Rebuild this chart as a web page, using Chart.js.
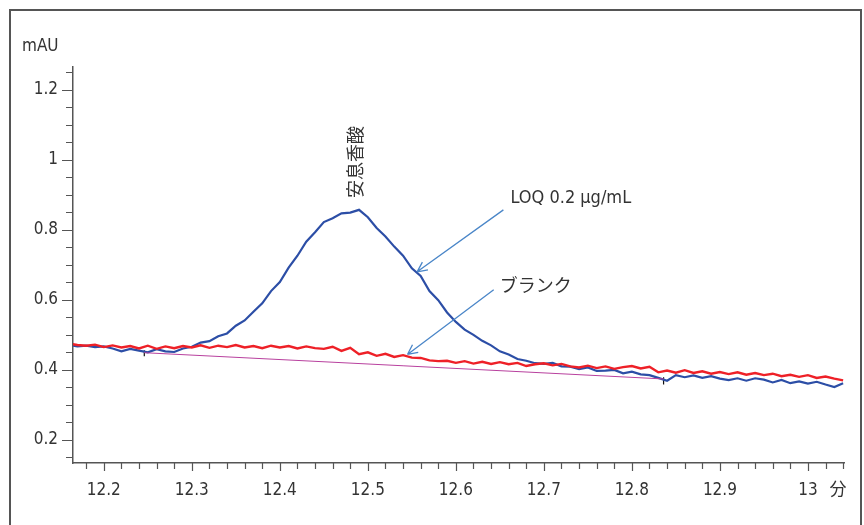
<!DOCTYPE html>
<html>
<head>
<meta charset="utf-8">
<script src="https://cdn.jsdelivr.net/npm/chart.js@4/dist/chart.umd.min.js"></script>
<style>
  html, body { margin: 0; padding: 0; background: #fff; }
  #wrap { width: 864px; height: 525px; }
</style>
</head>
<body>
<div id="wrap"><canvas id="chrom" width="864" height="525"></canvas></div>
<script>
// retention time (min), shared by both traces
const times = [
  12.16,12.17,12.18,12.19,12.20,12.21,12.22,12.23,12.24,12.25,12.26,12.27,12.28,12.29,
  12.30,12.31,12.32,12.33,12.34,12.35,12.36,12.37,12.38,12.39,12.40,12.41,12.42,12.43,
  12.44,12.45,12.46,12.47,12.48,12.49,12.50,12.51,12.52,12.53,12.54,12.55,12.56,12.57,
  12.58,12.59,12.60,12.61,12.62,12.63,12.64,12.65,12.66,12.67,12.68,12.69,12.70,12.71,
  12.72,12.73,12.74,12.75,12.76,12.77,12.78,12.79,12.80,12.81,12.82,12.83,12.84,12.85,
  12.86,12.87,12.88,12.89,12.90,12.91,12.92,12.93,12.94,12.95,12.96,12.97,12.98,12.99,
  13.00,13.01,13.02,13.03,13.04
];
// LOQ 0.2 µg/mL (blue)
const loqTrace = [
  0.472,0.467,0.469,0.465,0.467,0.461,0.453,0.460,0.455,0.450,0.459,0.453,0.451,0.461,
  0.466,0.478,0.482,0.496,0.504,0.526,0.541,0.566,0.590,0.625,0.651,0.692,0.726,0.766,
  0.793,0.822,0.833,0.847,0.849,0.857,0.836,0.805,0.781,0.752,0.726,0.690,0.668,0.625,
  0.599,0.564,0.537,0.515,0.500,0.483,0.470,0.453,0.444,0.431,0.426,0.419,0.417,0.420,
  0.410,0.409,0.402,0.407,0.397,0.398,0.400,0.390,0.395,0.387,0.385,0.377,0.369,0.385,
  0.379,0.384,0.377,0.382,0.375,0.371,0.376,0.369,0.376,0.372,0.364,0.371,0.362,0.367,
  0.361,0.366,0.358,0.351,0.362
];
// ブランク (red)
const blankTrace = [
  0.475,0.471,0.469,0.472,0.465,0.470,0.464,0.468,0.461,0.469,0.460,0.467,0.462,0.468,
  0.464,0.470,0.463,0.469,0.465,0.471,0.464,0.468,0.462,0.469,0.464,0.468,0.461,0.467,
  0.462,0.460,0.466,0.454,0.463,0.445,0.450,0.440,0.446,0.437,0.442,0.435,0.434,0.427,
  0.425,0.426,0.420,0.425,0.418,0.423,0.417,0.422,0.416,0.420,0.411,0.416,0.419,0.413,
  0.417,0.410,0.407,0.412,0.405,0.410,0.403,0.408,0.411,0.404,0.409,0.393,0.398,0.392,
  0.399,0.391,0.396,0.389,0.394,0.388,0.393,0.386,0.391,0.385,0.389,0.382,0.386,0.380,
  0.385,0.377,0.381,0.375,0.370
];
// integration baseline and its start/end markers
const baseTimes = [12.246, 12.836];
const baseValues = [0.449, 0.374];
const markerTop = [0.456, 0.379];
const markerBottom = [0.439, 0.358];

const xMajorLabels = ['12.2','12.3','12.4','12.5','12.6','12.7','12.8','12.9','13'];
const yMajorLabels = ['0.2','0.4','0.6','0.8','1','1.2'];
const xRange = [12.165, 13.041];
const yRange = [0.134, 1.265];

// annotations in data units
const peakLabel = { t: 12.486, v: 0.994, text: '安息香酸' };
const textLabels = [
  { t: 12.662, v: 0.891, text: 'LOQ 0.2 µg/mL', cjk: false },
  { t: 12.650, v: 0.643, text: 'ブランク', cjk: true }
];
const arrows = [
  { from: [12.654, 0.857], to: [12.556, 0.680] },
  { from: [12.643, 0.629], to: [12.545, 0.444] }
];

const NARROW = '"Liberation Sans Narrow", "DejaVu Sans Condensed", Roboto, sans-serif';
const CJK = '"Noto Sans CJK JP", "Noto Sans", sans-serif';

const xy = (ts, vs) => ts.map((t, i) => ({ x: t, y: vs[i] }));
const markers = [
  { x: baseTimes[0], y: markerTop[0] }, { x: baseTimes[0], y: markerBottom[0] },
  { x: baseTimes[0], y: null },
  { x: baseTimes[1], y: markerTop[1] }, { x: baseTimes[1], y: markerBottom[1] }
];

const isMajor = (v, step) => Math.abs(v / step - Math.round(v / step)) < 1e-6;

const decor = {
  id: 'decor',
  beforeDraw(chart) {
    const c = chart.ctx;
    c.save();
    c.strokeStyle = '#555';
    c.lineWidth = 2;
    c.beginPath();
    c.moveTo(10, 530); c.lineTo(10, 10); c.lineTo(861, 10); c.lineTo(861, 530);
    c.stroke();
    c.restore();
  },
  afterDraw(chart) {
    const c = chart.ctx;
    const xs = chart.scales.x, ys = chart.scales.y;
    c.save();
    // tick marks
    c.strokeStyle = '#555';
    c.lineWidth = 1.2;
    c.beginPath();
    xs.ticks.forEach(tk => {
      const px = Math.round(xs.getPixelForValue(tk.value)) + 0.5;
      const len = isMajor(tk.value, 0.1) ? 8 : 6;
      c.moveTo(px, xs.top); c.lineTo(px, xs.top + len);
    });
    ys.ticks.forEach(tk => {
      const py = Math.round(ys.getPixelForValue(tk.value)) + 0.5;
      const len = isMajor(tk.value, 0.2) ? 11 : 7;
      c.moveTo(ys.right, py); c.lineTo(ys.right - len, py);
    });
    c.stroke();

    // axis titles
    c.fillStyle = '#333';
    c.font = '17px ' + NARROW;
    c.textAlign = 'left';
    c.textBaseline = 'middle';
    c.fillText('mAU', 22, 47);
    c.font = '17px ' + CJK;
    c.textAlign = 'center';
    c.fillText('分', 838, 489);

    // rotated peak name
    c.save();
    c.translate(xs.getPixelForValue(peakLabel.t), ys.getPixelForValue(peakLabel.v));
    c.rotate(-Math.PI / 2);
    c.font = '18px ' + CJK;
    c.textAlign = 'center';
    c.textBaseline = 'middle';
    c.fillText(peakLabel.text, 0, 0);
    c.restore();

    // trace labels
    textLabels.forEach(l => {
      c.font = '18px ' + (l.cjk ? CJK : NARROW);
      c.textAlign = 'left';
      c.textBaseline = 'middle';
      c.fillText(l.text, xs.getPixelForValue(l.t), ys.getPixelForValue(l.v));
    });

    // arrows
    c.strokeStyle = '#4a86c8';
    c.lineWidth = 1.3;
    arrows.forEach(a => {
      const x1 = xs.getPixelForValue(a.from[0]), y1 = ys.getPixelForValue(a.from[1]);
      const x2 = xs.getPixelForValue(a.to[0]), y2 = ys.getPixelForValue(a.to[1]);
      const ang = Math.atan2(y2 - y1, x2 - x1);
      c.beginPath();
      c.moveTo(x1, y1); c.lineTo(x2, y2);
      [0.45, -0.45].forEach(d => {
        c.moveTo(x2, y2);
        c.lineTo(x2 - 11 * Math.cos(ang + d), y2 - 11 * Math.sin(ang + d));
      });
      c.stroke();
    });
    c.restore();
  }
};

new Chart(document.getElementById('chrom'), {
  type: 'line',
  data: {
    datasets: [
      { data: xy(baseTimes, baseValues), borderColor: '#b8409e', borderWidth: 1, pointRadius: 0 },
      { data: xy(times, blankTrace), borderColor: '#ee2027', borderWidth: 2.4, pointRadius: 0 },
      { data: xy(times, loqTrace), borderColor: '#2c4ea6', borderWidth: 2.2, pointRadius: 0 },
      { data: markers, borderColor: '#111', borderWidth: 1.2, pointRadius: 0, spanGaps: false }
    ]
  },
  options: {
    responsive: false,
    animation: false,
    events: [],
    layout: { padding: { top: 67, right: 20, left: 0, bottom: 0 } },
    plugins: { legend: { display: false }, tooltip: { enabled: false } },
    elements: { line: { tension: 0 } },
    scales: {
      x: {
        type: 'linear',
        min: xRange[0], max: xRange[1],
        afterBuildTicks: s => {
          const t = [];
          for (let k = 0; k <= 43; k++) t.push({ value: +(12.18 + k * 0.02).toFixed(2) });
          s.ticks = t;
        },
        afterFit: s => { s.height = 62; },
        grid: { display: true, drawOnChartArea: false, drawTicks: false },
        border: { display: true, color: '#555', width: 1.5 },
        ticks: {
          autoSkip: false, maxRotation: 0, padding: 17,
          color: '#333', font: { family: NARROW, size: 17 },
          callback: v => isMajor(v, 0.1) ? xMajorLabels[Math.round((v - 12.2) * 10)] : ''
        }
      },
      y: {
        type: 'linear',
        min: yRange[0], max: yRange[1],
        afterBuildTicks: s => {
          const t = [];
          for (let k = 0; k <= 22; k++) t.push({ value: +(0.15 + k * 0.05).toFixed(2) });
          s.ticks = t;
        },
        afterFit: s => { s.width = 73; },
        grid: { display: true, drawOnChartArea: false, drawTicks: false },
        border: { display: true, color: '#555', width: 1.5 },
        ticks: {
          autoSkip: false, padding: 15,
          color: '#333', font: { family: NARROW, size: 17 },
          callback: v => isMajor(v, 0.2) ? yMajorLabels[Math.round(v / 0.2) - 1] : ''
        }
      }
    }
  },
  plugins: [decor]
});
</script>
</body>
</html>
